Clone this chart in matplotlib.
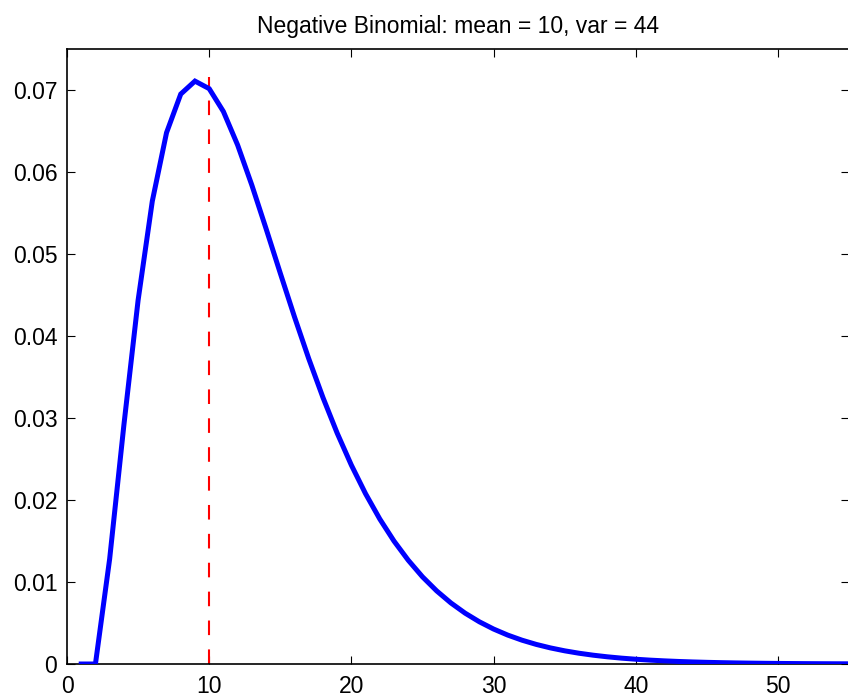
import matplotlib
matplotlib.use("Agg")
import matplotlib.pyplot as plt

plt.rcParams['font.family'] = ['Liberation Sans', 'DejaVu Sans']
plt.rcParams['lines.scale_dashes'] = False

# pmf values, x = 1..55
x = list(range(1, 56))
pmf = [0.0, 0.0,
       0.01281, 0.02911, 0.04433, 0.05642, 0.06476, 0.06947, 0.07105, 0.07013,
       0.06734, 0.06326, 0.05837, 0.05307, 0.04764, 0.04231, 0.03723, 0.03249,
       0.02815, 0.02424, 0.02075, 0.01767, 0.01498, 0.01265, 0.01063, 0.008911,
       0.007443, 0.006198, 0.005147, 0.004263, 0.003523, 0.002904, 0.002389,
       0.001962, 0.001608, 0.001316, 0.001075, 0.000877, 0.000714, 0.000581,
       0.000472, 0.000383, 0.000310, 0.000251, 0.000203, 0.000164, 0.000132,
       0.000107, 0.000086, 0.000069, 0.000056, 0.000045, 0.000036, 0.000029,
       0.000023]
mean_val = 10
mean_line_top = 0.0716

fig = plt.figure(figsize=(8.48, 7.0), dpi=100)
ax = fig.add_axes([67 / 848, 36 / 700, 782 / 848, 615.3 / 700])

ax.plot(x, pmf, color='blue', linewidth=3.6, solid_joinstyle='miter', zorder=3)
ax.plot([mean_val, mean_val], [0, mean_line_top], color='red', linewidth=1.5,
        dashes=(10.5, 10.3), zorder=2)

ax.set_xlim(0, 55)
ax.set_ylim(0, 0.075)
ax.set_xticks([0, 10, 20, 30, 40, 50])
ax.set_yticks([0, 0.01, 0.02, 0.03, 0.04, 0.05, 0.06, 0.07])
ax.set_yticklabels(['0', '0.01', '0.02', '0.03', '0.04', '0.05', '0.06', '0.07'])
ax.tick_params(direction='in', length=5.8, width=0.8, labelsize=16.5,
               top=True, right=True, pad=7)
ax.tick_params(axis='x', pad=8)
for s in ax.spines.values():
    s.set_linewidth(1.2)

ax.set_title('Negative Binomial: mean = 10, var = 44', fontsize=16.5, pad=11)

fig.savefig('out.png', dpi=100)
